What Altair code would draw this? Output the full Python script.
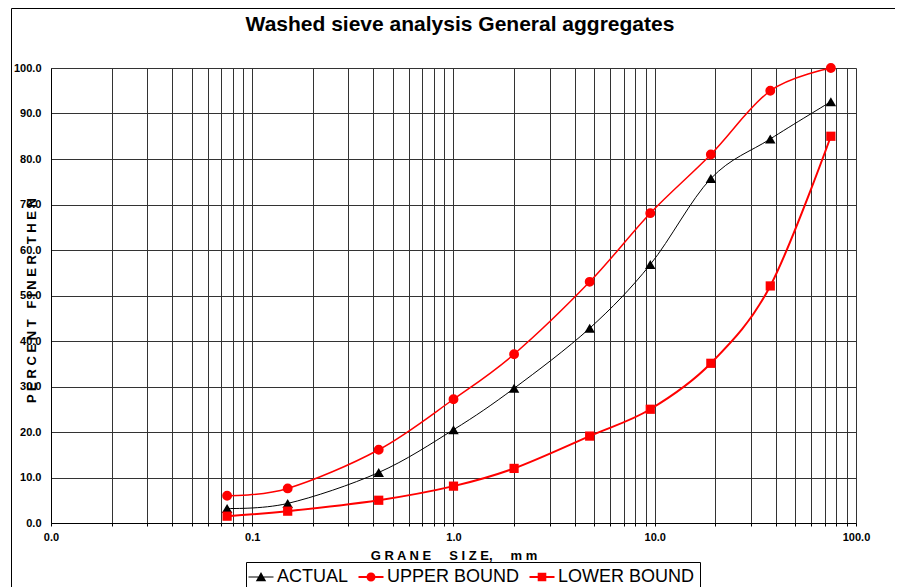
import altair as alt
import pandas as pd

# ---- data ----
sizes = [0.075, 0.15, 0.425, 1.0, 2.0, 4.75, 9.5, 19.0, 37.5, 75.0]
actual = [3.2, 4.3, 11.1, 20.5, 29.6, 42.8, 56.8, 75.7, 84.4, 92.6]
upper = [6.0, 7.6, 16.1, 27.2, 37.1, 53.0, 68.1, 81.0, 95.0, 100.0]
lower = [1.5, 2.6, 5.0, 8.1, 12.0, 19.1, 25.0, 35.1, 52.1, 85.0]

series_names = ["ACTUAL", "UPPER BOUND", "LOWER BOUND"]
series_colors = ["#000000", "#FF0000", "#FF0000"]
series_widths = [1.0, 2.0, 2.0]
series_shapes = ["triangle-up", "circle", "square"]
series_sizes = [110, 85, 85]

chart_title = "Washed sieve analysis General aggregates"

x_grid = [0.01, 0.02, 0.03, 0.04, 0.05, 0.06, 0.07, 0.08, 0.09,
          0.1, 0.2, 0.3, 0.4, 0.5, 0.6, 0.7, 0.8, 0.9,
          1, 2, 3, 4, 5, 6, 7, 8, 9,
          10, 20, 30, 40, 50, 60, 70, 80, 90, 100]
y_ticks = [0, 10, 20, 30, 40, 50, 60, 70, 80, 90, 100]

# legend symbols: a line segment with the marker on it
legend_shapes = [
    "M-1.25,-0.05H1.25V0.05H-1.25Z M0,-0.5L0.52,0.42L-0.52,0.42Z",
    "M-1.25,-0.1H1.25V0.1H-1.25Z M-0.45,0A0.45,0.45 0 1,1 0.45,0A0.45,0.45 0 1,1 -0.45,0Z",
    "M-1.25,-0.1H1.25V0.1H-1.25Z M-0.43,-0.43H0.43V0.43H-0.43Z",
]

rows = []
for name, vals in zip(series_names, [actual, upper, lower]):
    for s, v in zip(sizes, vals):
        rows.append({"size": s, "value": v, "series": name})
df = pd.DataFrame(rows)

FONT = "Liberation Sans"

x_enc = alt.X(
    "size:Q",
    scale=alt.Scale(type="log", domain=[0.01, 100], nice=False),
    axis=alt.Axis(
        values=x_grid,
        labelExpr="abs(log(datum.value)/LN10 - round(log(datum.value)/LN10)) < 1e-6 ? format(datum.value, '.1f') : ''",
        title="G R A N E\u00a0\u00a0\u00a0\u00a0\u00a0S I Z E,\u00a0\u00a0\u00a0\u00a0\u00a0m m",
        titleFont=FONT, titleFontSize=13, titleFontWeight="bold",
        titleBaseline="middle", titleY=32,
        labelFont=FONT, labelFontSize=11, labelFontWeight="bold",
        labelFlush=False, labelPadding=5, labelColor="black",
        tickSize=3, tickColor="black", domainColor="black",
        grid=True, gridColor="#333333", gridWidth=1,
    ),
)
y_enc = alt.Y(
    "value:Q",
    scale=alt.Scale(domain=[0, 100], nice=False),
    axis=alt.Axis(
        values=y_ticks, format=".1f",
        title="P E R C E N T\u00a0\u00a0\u00a0F I N E R\u00a0\u00a0\u00a0T H E N",
        titleFont=FONT, titleFontSize=13, titleFontWeight="bold",
        titleAngle=-90, titleAlign="center", titleBaseline="middle",
        titleX=-20, titleY=232,
        labelFont=FONT, labelFontSize=11, labelFontWeight="bold",
        labelPadding=10, labelColor="black",
        ticks=False, domainColor="black",
        grid=True, gridColor="#333333", gridWidth=1,
    ),
)

color_scale = alt.Scale(domain=series_names, range=series_colors)

lines = alt.Chart(df).mark_line(interpolate="cardinal").encode(
    x=x_enc, y=y_enc,
    color=alt.Color("series:N", scale=color_scale, legend=None),
    strokeWidth=alt.StrokeWidth("series:N", scale=alt.Scale(domain=series_names, range=series_widths), legend=None),
    detail="series:N",
)

points = alt.Chart(df).mark_point(filled=True, opacity=1).encode(
    x="size:Q", y="value:Q",
    color=alt.Color("series:N", scale=color_scale, legend=None),
    shape=alt.Shape("series:N", scale=alt.Scale(domain=series_names, range=series_shapes), legend=None),
    size=alt.Size("series:N", scale=alt.Scale(domain=series_names, range=series_sizes), legend=None),
)

legend_props = dict(title=None, orient="none", legendX=195, legendY=494,
                    direction="horizontal", symbolSize=400,
                    labelFont=FONT, labelFontSize=18, labelColor="black",
                    labelOffset=6, columnPadding=9, padding=5,
                    strokeColor="black", fillColor="white",
                    symbolStrokeWidth=0, symbolOpacity=1)

legend_layer = alt.Chart(df).transform_filter("false").mark_point(filled=True, opacity=1).encode(
    x="size:Q", y="value:Q",
    color=alt.Color("series:N", scale=color_scale, legend=alt.Legend(**legend_props)),
    shape=alt.Shape("series:N", scale=alt.Scale(domain=series_names, range=legend_shapes),
                    legend=alt.Legend(**legend_props)),
)

frame = alt.Chart(pd.DataFrame({"k": [0]})).mark_rect(
    fillOpacity=0, stroke="black", strokeWidth=1
).encode(
    x=alt.value(-39.5), x2=alt.value(900), y=alt.value(-59.5), y2=alt.value(600)
)

title_text = alt.Chart(pd.DataFrame({"t": [chart_title]})).mark_text(
    font=FONT, fontSize=21, fontWeight="bold", color="black",
    align="center", baseline="alphabetic"
).encode(
    text="t:N", x=alt.value(409), y=alt.value(-37.5)
)

chart = alt.layer(frame, lines, points, legend_layer, title_text).resolve_scale(
    color="independent", shape="independent", size="independent"
).properties(
    width=805, height=455,
    autosize=alt.AutoSizeParams(type="none"),
    padding={"left": 43, "top": 60, "right": 39, "bottom": 64},
).configure_view(stroke="black", strokeWidth=1).configure(background="white")

chart.save("out.html", embed_options={"renderer": "svg", "actions": False})
